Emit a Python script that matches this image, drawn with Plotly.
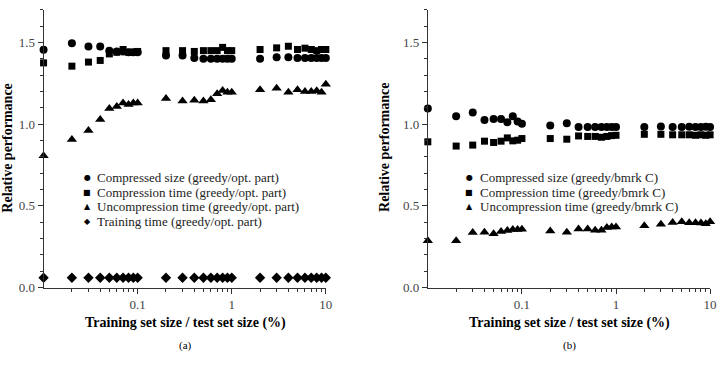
import plotly.graph_objects as go

W, H = 726, 367

x_vals = [0.01, 0.02, 0.03, 0.04, 0.05, 0.06, 0.07, 0.08, 0.09, 0.1,
          0.2, 0.3, 0.4, 0.5, 0.6, 0.7, 0.8, 0.9, 1,
          2, 3, 4, 5, 6, 7, 8, 9, 10]

# (a) greedy / opt. part
a_size = [1.455, 1.495, 1.475, 1.475, 1.45, 1.445, 1.445, 1.44, 1.44, 1.44,
          1.42, 1.42, 1.405, 1.40, 1.40, 1.40, 1.40, 1.40, 1.40,
          1.40, 1.41, 1.41, 1.405, 1.405, 1.405, 1.405, 1.405, 1.405]
a_comp = [1.375, 1.355, 1.38, 1.39, 1.43, 1.44, 1.457, 1.44, 1.44, 1.445,
          1.45, 1.45, 1.445, 1.45, 1.45, 1.45, 1.47, 1.45, 1.45,
          1.457, 1.467, 1.477, 1.457, 1.465, 1.457, 1.45, 1.457, 1.457]
a_uncomp = [0.806, 0.906, 0.962, 1.028, 1.096, 1.108, 1.13, 1.12, 1.13, 1.13,
            1.157, 1.142, 1.146, 1.142, 1.15, 1.186, 1.206, 1.196, 1.196,
            1.211, 1.22, 1.196, 1.21, 1.20, 1.20, 1.205, 1.196, 1.245]
a_train = [0.06] * 28

# (b) greedy / bmrk C
b_size = [1.096, 1.048, 1.072, 1.026, 1.032, 1.032, 1.012, 1.048, 1.016, 1.002,
          0.992, 1.006, 0.982, 0.982, 0.982, 0.982, 0.982, 0.982, 0.982,
          0.982, 0.986, 0.982, 0.982, 0.984, 0.982, 0.982, 0.984, 0.982]
b_comp = [0.892, 0.866, 0.872, 0.896, 0.888, 0.896, 0.916, 0.898, 0.902, 0.912,
          0.912, 0.908, 0.928, 0.925, 0.925, 0.92, 0.925, 0.93, 0.932,
          0.938, 0.938, 0.935, 0.935, 0.935, 0.932, 0.935, 0.932, 0.935]
b_uncomp = [0.287, 0.287, 0.337, 0.339, 0.329, 0.343, 0.35, 0.355, 0.355, 0.357,
            0.347, 0.339, 0.359, 0.359, 0.351, 0.351, 0.367, 0.371, 0.371,
            0.379, 0.387, 0.399, 0.403, 0.397, 0.397, 0.395, 0.391, 0.403]

legend_a = ["Compressed size (greedy/opt. part)",
            "Compression time (greedy/opt. part)",
            "Uncompression time (greedy/opt. part)",
            "Training time (greedy/opt. part)"]
legend_b = ["Compressed size (greedy/bmrk C)",
            "Compression time (greedy/bmrk C)",
            "Uncompression time (greedy/bmrk C)"]

x_ticks = [0.1, 1, 10]
x_ticktext = ["0.1", "1", "10"]
y_ticks = [0.0, 0.5, 1.0, 1.5]
y_ticktext = ["0.0", "0.5", "1.0", "1.5"]
x_minor = [0.02, 0.03, 0.04, 0.05, 0.06, 0.07, 0.08, 0.09,
           0.2, 0.3, 0.4, 0.5, 0.6, 0.7, 0.8, 0.9,
           2, 3, 4, 5, 6, 7, 8, 9]
y_minor = [0.1, 0.2, 0.3, 0.4, 0.6, 0.7, 0.8, 0.9, 1.1, 1.2, 1.3, 1.4, 1.6, 1.7]

SERIF = "Liberation Serif"


def px(x):
    return x / W


def py(y):
    return 1 - y / H


symbols = ["circle", "square", "triangle-up", "diamond"]
sizes = [8, 7, 9, 8]

fig = go.Figure()
for i, (ys, name) in enumerate(zip([a_size, a_comp, a_uncomp, a_train], legend_a)):
    fig.add_trace(go.Scatter(x=x_vals, y=ys, mode="markers", name=name,
                             marker=dict(symbol=symbols[i], size=sizes[i], color="black"),
                             cliponaxis=False, showlegend=False, xaxis="x", yaxis="y"))
for i, (ys, name) in enumerate(zip([b_size, b_comp, b_uncomp], legend_b)):
    fig.add_trace(go.Scatter(x=x_vals, y=ys, mode="markers", name=name,
                             marker=dict(symbol=symbols[i], size=sizes[i], color="black"),
                             cliponaxis=False, showlegend=False, xaxis="x2", yaxis="y2"))

left_dom = [px(44), px(329)]
right_dom = [px(432), px(717)]
ydom = [py(294), py(10)]

xaxis_common = dict(type="log", range=[-2, 1], tickvals=x_ticks, ticktext=x_ticktext,
                    ticks="outside", ticklen=5, tickwidth=1, tickcolor="#333",
                    showline=True, linecolor="#333", linewidth=1, showgrid=False,
                    zeroline=False, tickfont=dict(family=SERIF, size=13, color="#444"),
                    minor=dict(tickvals=x_minor, ticks="outside", ticklen=3,
                               tickcolor="#333", showgrid=False))
yaxis_common = dict(range=[0, 1.7], tickvals=y_ticks, ticktext=y_ticktext,
                    ticks="outside", ticklen=5, tickwidth=1, tickcolor="#333",
                    showline=True, linecolor="#333", linewidth=1, showgrid=False,
                    zeroline=False, tickfont=dict(family=SERIF, size=13, color="#444"),
                    minor=dict(tickvals=y_minor, ticks="outside", ticklen=3,
                               tickcolor="#333", showgrid=False))

fig.update_layout(
    width=W, height=H, margin=dict(l=0, r=0, t=0, b=0),
    paper_bgcolor="white", plot_bgcolor="white",
    xaxis={**xaxis_common, "domain": left_dom, "anchor": "y"},
    yaxis={**yaxis_common, "domain": ydom, "anchor": "x"},
    xaxis2={**xaxis_common, "domain": right_dom, "anchor": "y2"},
    yaxis2={**yaxis_common, "domain": ydom, "anchor": "x2"},
)

ann = []
# axis titles
for cx, lab in [(187, "(a)"), (575, "(b)")]:
    ann.append(dict(x=px(cx), y=py(330), xref="paper", yref="paper",
                    text="<b>Training set size / test set size (%)</b>", showarrow=False,
                    font=dict(family=SERIF, size=14, color="black"),
                    xanchor="center", yanchor="middle"))
    ann.append(dict(x=px(cx), y=py(353), xref="paper", yref="paper",
                    text=lab, showarrow=False,
                    font=dict(family=SERIF, size=11, color="black"),
                    xanchor="center", yanchor="middle"))
for cx in [8, 388]:
    ann.append(dict(x=px(cx), y=py(151), xref="paper", yref="paper",
                    text="<b>Relative performance</b>", showarrow=False, textangle=-90,
                    font=dict(family=SERIF, size=14, color="black"),
                    xanchor="center", yanchor="middle"))

glyphs = ["\u25CF", "\u25A0", "\u25B2", "\u25C6"]
rows = [181.5, 196.5, 211.5, 226.5]
for names, gx, tx in [(legend_a, 88, 96), (legend_b, 474, 483)]:
    for i, name in enumerate(names):
        ann.append(dict(x=px(gx), y=py(rows[i]), xref="paper", yref="paper",
                        text=glyphs[i], showarrow=False,
                        font=dict(family="DejaVu Sans", size=8, color="black"),
                        xanchor="center", yanchor="middle"))
        ann.append(dict(x=px(tx), y=py(rows[i]), xref="paper", yref="paper",
                        text=name, showarrow=False,
                        font=dict(family=SERIF, size=13, color="#222"),
                        xanchor="left", yanchor="middle"))
fig.update_layout(annotations=ann)

fig.write_html("out.html")
